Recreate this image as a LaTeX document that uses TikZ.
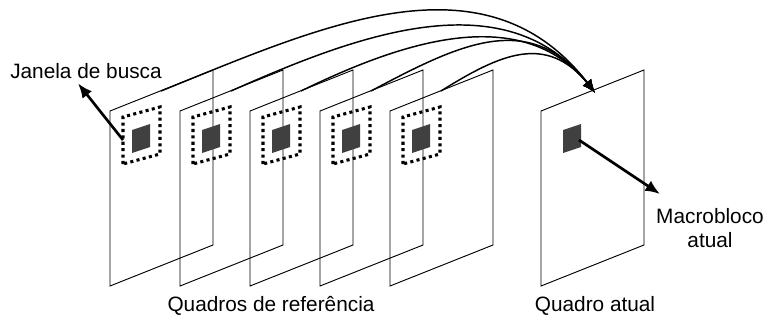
\documentclass[tikz,border=0pt]{standalone}
\usepackage{fontspec}
\setmainfont{Liberation Sans}
\usetikzlibrary{arrows.meta,bending}

\begin{document}
\begin{tikzpicture}[
    x=0.75pt,y=0.75pt,
    >={Latex[length=10pt,width=8pt,bend]},
    font=\fontsize{15.6}{18}\selectfont,
    frame/.style={draw=black,line width=0.7pt},
    window/.style={draw,line width=2.3pt,dash pattern=on 2.3pt off 2.5pt},
    block/.style={fill=black!75},
    thickarrow/.style={line width=2pt,-{Latex[length=11pt,width=9pt]}},
]
    \useasboundingbox (0,0) rectangle (768,322);
    \foreach \L [count=\i from 0] in {110,180,250,320,390,541}{%
        \draw[frame] (\L,36) -- (\L,211) -- (\L+103,252) -- (\L+103,77) -- cycle;
        \ifnum\i<5
            \draw[window] (\L+13,158) -- ++(0,47) -- ++(37,10) -- ++(0,-47) -- cycle;
        \fi
        \fill[block] (\L+22,169) -- ++(0,23) -- ++(18,6) -- ++(0,-23) -- cycle;
        \coordinate (top\i) at (\L+51,231);
    }
    \coordinate (tip) at (595,229);
    \coordinate (win0) at (123,182);
    \coordinate (blk5) at (579,182);
    \coordinate (mbtip) at (660,128);

    \foreach \i/\o/\l in {0/22/1.05,1/24/1,2/26/1,3/28/1.2,4/32/1.25}{%
        \draw[->,line width=1.1pt] (top\i) to[out=\o,in=125,looseness=\l] (tip);
    }

    \node (janela) at (86,251) {Janela de busca};
    \node[align=center] (macro) at (710,94) {Macrobloco\\atual};
    \node (refs) at (271,16) {Quadros de referência};
    \node (atual) at (595,16) {Quadro atual};

    \draw[thickarrow] (win0) -- ([xshift=-6]janela.south);
    \draw[thickarrow] (blk5) -- (mbtip);
\end{tikzpicture}
\end{document}
